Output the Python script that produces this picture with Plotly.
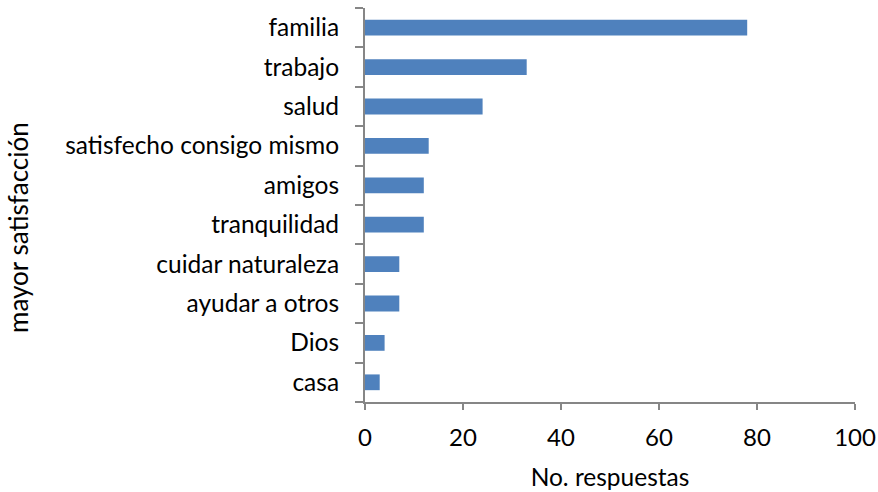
import plotly.graph_objects as go

categories = ["casa", "Dios", "ayudar a otros", "cuidar naturaleza", "tranquilidad",
              "amigos", "satisfecho consigo mismo", "salud", "trabajo", "familia"]
responses = [3, 4, 7, 7, 12, 12, 13, 24, 33, 78]
x_ticks = [0, 20, 40, 60, 80, 100]

bar_color = "#4F81BD"
axis_color = "#868686"
font_family = "Lato, 'Open Sans', sans-serif"

fig = go.Figure(
    go.Bar(
        y=categories,
        x=responses,
        orientation="h",
        marker=dict(color=bar_color, line=dict(width=0)),
        width=0.4,
    )
)

fig.update_layout(
    width=878,
    height=492,
    margin=dict(l=365, r=23, t=8, b=90),
    plot_bgcolor="white",
    paper_bgcolor="white",
    showlegend=False,
    font=dict(family=font_family, size=24, color="#000000"),
)

fig.update_xaxes(
    range=[0, 100],
    tickvals=x_ticks,
    automargin=False,
    showgrid=False,
    zeroline=False,
    showline=True,
    linecolor=axis_color,
    linewidth=2,
    ticks="outside",
    ticklen=6,
    tickwidth=2,
    tickcolor=axis_color,
    tickfont=dict(family=font_family, size=24),
    ticklabelstandoff=7,
    title=dict(text="No. respuestas", font=dict(family=font_family, size=24.5), standoff=19),
)

fig.update_yaxes(
    automargin=False,
    showgrid=False,
    zeroline=False,
    showline=True,
    linecolor=axis_color,
    linewidth=2,
    ticks="outside",
    tickson="boundaries",
    ticklen=8,
    tickwidth=2,
    tickcolor=axis_color,
    tickfont=dict(family=font_family, size=24.5),
    ticklabelstandoff=19,
)

# Vertical category-axis title, placed slightly below the plot's centre
fig.add_annotation(
    text="mayor satisfacción",
    xref="paper", yref="paper",
    x=-0.708, y=0.442,
    xanchor="center", yanchor="middle",
    textangle=-90,
    showarrow=False,
    font=dict(family=font_family, size=26, color="#000000"),
)

fig.write_html("out.html")
